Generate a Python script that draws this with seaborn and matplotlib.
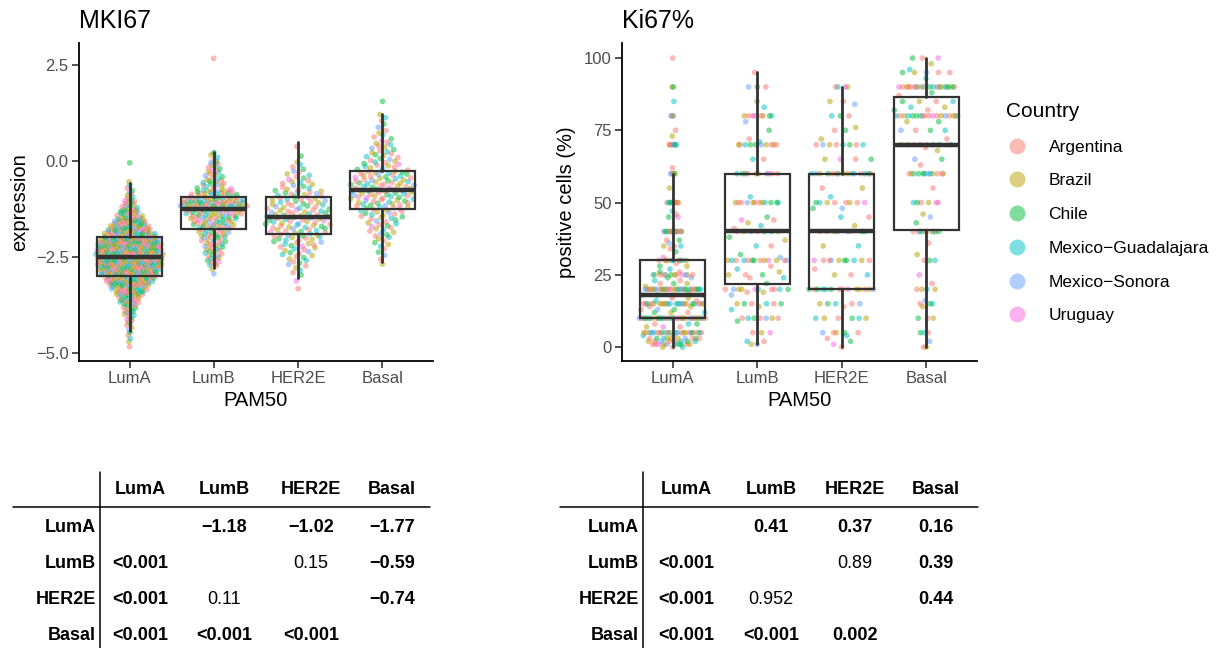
import numpy as np
import pandas as pd
import matplotlib
matplotlib.use("Agg")
import matplotlib.pyplot as plt
import seaborn as sns
from matplotlib.lines import Line2D

sns.set_theme(style="ticks")
plt.rcParams['font.family'] = ['Liberation Sans', 'DejaVu Sans']
plt.rcParams['text.color'] = 'black'

# ---------------- data ----------------
GROUPS = ["LumA", "LumB", "HER2E", "Basal"]
COUNTRIES = ["Argentina", "Brazil", "Chile", "Mexico\u2212Guadalajara", "Mexico\u2212Sonora", "Uruguay"]
COLORS = ["#F8766D", "#B79F00", "#00BA38", "#00BFC4", "#619CFF", "#F564E3"]
# repeating country pattern (A=Argentina, B=Brazil, C=Chile, G=Guadalajara, S=Sonora, U=Uruguay)
COUNTRY_PATTERN = ["A", "B", "G", "A", "C", "S", "B", "A", "G", "B", "A", "U",
                   "C", "A", "G", "B", "A", "S", "C", "A", "G", "B", "C"]
PATTERN_KEY = {"A": 0, "B": 1, "C": 2, "G": 3, "S": 4, "U": 5}

# MKI67 expression: counts of points per 0.25-wide bin (lower edges below)
MKI67_BIN_LOW = [-5.0, -4.75, -4.5, -4.25, -4.0, -3.75, -3.5, -3.25, -3.0, -2.75,
                 -2.5, -2.25, -2.0, -1.75, -1.5, -1.25, -1.0, -0.75, -0.5, -0.25,
                 0.0, 0.25, 0.5, 0.75, 1.0, 1.25]
MKI67_LUMA = [0, 3, 4, 7, 11, 18, 30, 45, 58, 62, 62, 62, 45, 33, 20, 12, 6, 3, 0, 0, 0, 0, 0, 0, 0, 0]
MKI67_LUMB = [0, 0, 0, 0, 0, 0, 0, 0, 2, 9, 11, 14, 18, 25, 32, 50, 28, 14, 10, 8, 4, 0, 0, 0, 0, 0]
MKI67_HER2E = [0, 0, 0, 0, 0, 0, 0, 1, 4, 7, 10, 14, 18, 20, 20, 18, 16, 10, 7, 4, 1, 1, 0, 0, 0, 0]
MKI67_BASAL = [0, 0, 0, 0, 0, 0, 0, 0, 0, 2, 3, 5, 8, 10, 14, 20, 22, 22, 20, 13, 10, 8, 5, 3, 3, 0]
MKI67_EXTRA_LUMA = [-4.84, -0.05]
MKI67_EXTRA_LUMB = [2.67]
MKI67_EXTRA_HER2E = [-3.33]
MKI67_EXTRA_BASAL = [1.55]

# Ki67 % positive cells: value -> count
KI67_LUMA_VAL = [0, 1, 2, 3, 4, 5, 7, 8, 10, 12, 13, 14, 15, 16, 17, 18, 19, 20, 21, 22, 23, 24, 25, 26, 27, 28, 29,
                 30, 31, 33, 34, 35, 36, 37, 40, 45, 46, 47, 50, 55, 60, 62, 70, 73, 75, 80, 85, 90, 100]
KI67_LUMA_CNT = [3, 10, 8, 10, 2, 22, 3, 3, 30, 4, 3, 2, 22, 2, 2, 4, 1, 28, 1, 3, 2, 2, 12, 2, 1, 2, 1,
                 10, 1, 1, 1, 3, 1, 2, 14, 2, 1, 1, 9, 1, 5, 1, 7, 1, 1, 3, 1, 2, 1]
KI67_LUMB_VAL = [1, 2, 5, 9, 10, 13, 14, 15, 18, 19, 20, 22, 24, 25, 26, 27, 28, 30, 31, 32, 35, 37, 38, 40, 41, 42,
                 43, 44, 45, 50, 52, 60, 65, 70, 71, 72, 75, 78, 80, 83, 85, 90, 95]
KI67_LUMB_CNT = [2, 2, 3, 1, 7, 1, 1, 6, 1, 2, 10, 1, 2, 3, 1, 1, 1, 13, 1, 1, 2, 1, 1, 7, 1, 1,
                 1, 2, 1, 12, 1, 10, 2, 10, 1, 1, 1, 1, 8, 1, 1, 3, 1]
KI67_HER2E_VAL = [0, 1, 2, 3, 4, 5, 10, 14, 15, 20, 25, 27, 30, 35, 40, 42, 45, 48, 50, 52, 55, 60, 65, 70, 72,
                  75, 76, 80, 84, 85, 90]
KI67_HER2E_CNT = [1, 1, 1, 1, 1, 5, 6, 1, 5, 14, 3, 1, 10, 2, 8, 1, 2, 2, 8, 1, 2, 15, 4, 8, 1,
                  2, 1, 3, 1, 2, 4]
KI67_BASAL_VAL = [0, 2, 5, 10, 14, 15, 16, 20, 22, 25, 30, 32, 36, 40, 43, 45, 46, 50, 55, 60, 63, 65, 68, 69, 70,
                  72, 75, 78, 80, 82, 83, 85, 87, 88, 90, 93, 95, 96, 98, 100]
KI67_BASAL_CNT = [2, 1, 3, 3, 1, 3, 1, 4, 1, 1, 3, 1, 1, 10, 1, 1, 1, 6, 1, 12, 1, 2, 1, 1, 8,
                  1, 4, 2, 18, 2, 2, 4, 1, 1, 20, 1, 5, 1, 1, 3]

# box statistics: q1, median, q3, lower whisker, upper whisker
MKI67_Q1 = [-2.99, -1.77, -1.90, -1.24]
MKI67_MED = [-2.49, -1.26, -1.45, -0.77]
MKI67_Q3 = [-1.97, -0.93, -0.95, -0.25]
MKI67_WLO = [-4.44, -2.80, -3.06, -2.62]
MKI67_WHI = [-0.58, 0.24, 0.48, 1.22]
KI67_Q1 = [10, 22, 20, 40.5]
KI67_MED = [18, 40, 40, 70]
KI67_Q3 = [30, 60, 60, 86.5]
KI67_WLO = [0, 1, 0, 0]
KI67_WHI = [60, 95, 90, 100]

# comparison tables
TABLE_HEAD = ["LumA", "LumB", "HER2E", "Basal"]
TAB1_CELLS = [["", "\u22121.18", "\u22121.02", "\u22121.77"],
              ["<0.001", "", "0.15", "\u22120.59"],
              ["<0.001", "0.11", "", "\u22120.74"],
              ["<0.001", "<0.001", "<0.001", ""]]
TAB1_BOLD = [[0, 1, 1, 1], [1, 0, 0, 1], [1, 0, 0, 1], [1, 1, 1, 0]]
TAB2_CELLS = [["", "0.41", "0.37", "0.16"],
              ["<0.001", "", "0.89", "0.39"],
              ["<0.001", "0.952", "", "0.44"],
              ["<0.001", "<0.001", "0.002", ""]]
TAB2_BOLD = [[0, 1, 1, 1], [1, 0, 0, 1], [1, 0, 0, 1], [1, 1, 1, 0]]


# ---------------- helpers ----------------
def expand_bins(low, counts, step=0.25):
    vals = []
    for lo, c in zip(low, counts):
        for k in range(c):
            vals.append(lo + (k + 0.5) / c * step)
    return vals


def expand_counts(values, counts):
    return list(np.repeat(values, counts).astype(float))


def vdc(n, base=2):
    out = np.zeros(n)
    for i in range(n):
        k, f, r = i + 1, 1.0, 0.0
        while k > 0:
            f /= base
            r += f * (k % base)
            k //= base
        out[i] = r
    return out


def quasi_offsets(vals, width=0.4):
    vals = np.asarray(vals, float)
    n = len(vals)
    sd = vals.std(ddof=1)
    q75, q25 = np.percentile(vals, [75, 25])
    lo = min(sd, (q75 - q25) / 1.34) if q75 > q25 else sd
    bw = 0.9 * lo * n ** -0.2
    d = np.exp(-0.5 * ((vals[:, None] - vals[None, :]) / bw) ** 2).sum(1)
    d = d / d.max()
    order = np.argsort(vals, kind="stable")
    q = np.empty(n)
    q[order] = vdc(n)
    return (q - 0.5) * 2 * width * d


def build_frame(group_values):
    rows = []
    for gi, vals in enumerate(group_values):
        vals = np.sort(np.asarray(vals, float))
        offs = quasi_offsets(vals)
        for i, (v, o) in enumerate(zip(vals, offs)):
            c = COUNTRIES[PATTERN_KEY[COUNTRY_PATTERN[(i + 5 * gi) % len(COUNTRY_PATTERN)]]]
            rows.append((GROUPS[gi], gi + o, v, c))
    return pd.DataFrame(rows, columns=["PAM50", "pos", "value", "Country"])


mki67_groups = [expand_bins(MKI67_BIN_LOW, MKI67_LUMA) + MKI67_EXTRA_LUMA,
                expand_bins(MKI67_BIN_LOW, MKI67_LUMB) + MKI67_EXTRA_LUMB,
                expand_bins(MKI67_BIN_LOW, MKI67_HER2E) + MKI67_EXTRA_HER2E,
                expand_bins(MKI67_BIN_LOW, MKI67_BASAL) + MKI67_EXTRA_BASAL]
ki67_groups = [expand_counts(KI67_LUMA_VAL, KI67_LUMA_CNT),
               expand_counts(KI67_LUMB_VAL, KI67_LUMB_CNT),
               expand_counts(KI67_HER2E_VAL, KI67_HER2E_CNT),
               expand_counts(KI67_BASAL_VAL, KI67_BASAL_CNT)]
df1 = build_frame(mki67_groups)
df2 = build_frame(ki67_groups)

# ---------------- figure ----------------
W, H = 1217, 648
fig = plt.figure(figsize=(W / 100, H / 100), dpi=100)
ax1 = fig.add_axes([79 / W, 1 - 361 / H, 354 / W, 318 / H])
ax2 = fig.add_axes([622 / W, 1 - 361 / H, 355 / W, 318 / H])

BOXC = "#333333"


def draw_panel(ax, df, q1, med, q3, wlo, whi):
    sns.scatterplot(data=df, x="pos", y="value", hue="Country", hue_order=COUNTRIES,
                    palette=COLORS, s=17, alpha=0.5, linewidth=0, legend=False,
                    ax=ax, zorder=2)
    stats = [dict(q1=a, med=b, q3=c, whislo=d, whishi=e, fliers=[])
             for a, b, c, d, e in zip(q1, med, q3, wlo, whi)]
    ax.bxp(stats, positions=range(len(GROUPS)), widths=0.77, showfliers=False,
           showcaps=False, patch_artist=True,
           boxprops=dict(facecolor="none", edgecolor=BOXC, linewidth=1.6),
           medianprops=dict(color=BOXC, linewidth=3.2, solid_capstyle="butt"),
           whiskerprops=dict(color=BOXC, linewidth=2.0), zorder=3)
    ax.set_xlim(-0.6, 3.6)
    ax.set_xticks(range(len(GROUPS)))
    ax.set_xticklabels(GROUPS)
    for s in ["top", "right"]:
        ax.spines[s].set_visible(False)
    for s in ["left", "bottom"]:
        ax.spines[s].set_color("black")
        ax.spines[s].set_linewidth(1.3)
    ax.tick_params(axis="both", direction="out", length=5, width=1.2, color=BOXC,
                   labelcolor="#4D4D4D", labelsize=12, pad=2.5)
    ax.set_xlabel("PAM50", fontsize=14.5, color="black", labelpad=3)
    ax.grid(False)


draw_panel(ax1, df1, MKI67_Q1, MKI67_MED, MKI67_Q3, MKI67_WLO, MKI67_WHI)
ax1.set_ylim(-5.21, 3.07)
ax1.set_yticks([-5.0, -2.5, 0.0, 2.5])
ax1.set_yticklabels([f"{v:.1f}".replace("-", "\u2212") for v in [-5.0, -2.5, 0.0, 2.5]])
ax1.set_ylabel("expression", fontsize=14.5, color="black", labelpad=5)
ax1.set_title("MKI67", loc="left", fontsize=18, pad=11, color="black")

draw_panel(ax2, df2, KI67_Q1, KI67_MED, KI67_Q3, KI67_WLO, KI67_WHI)
ax2.set_ylim(-4.8, 105.2)
ax2.set_yticks([0, 25, 50, 75, 100])
ax2.set_ylabel("positive cells (%)", fontsize=14.5, color="black", labelpad=6)
ax2.set_title("Ki67%", loc="left", fontsize=18, pad=11, color="black")

# legend
handles = [Line2D([0], [0], marker="o", linestyle="", markersize=11.5, markerfacecolor=c,
                  markeredgewidth=0, alpha=0.5) for c in COLORS]
leg = fig.legend(handles, COUNTRIES, loc="upper left", bbox_to_anchor=(999 / W, 1 - 95 / H),
                 frameon=False, title="Country", title_fontsize=15, fontsize=12.5,
                 labelspacing=1.07, handletextpad=1.15, handlelength=1.3, alignment="left",
                 borderaxespad=0)
leg.get_title().set_color("black")
for t in leg.get_texts():
    t.set_color("black")


# tables
def draw_table(cells, bold, vline_x, hline_x0, hline_x1, col_x, rowlab_x):
    fs = 13
    fig.add_artist(Line2D([vline_x / W, vline_x / W], [1 - 472 / H, 0], color="black", lw=1.1))
    fig.add_artist(Line2D([hline_x0 / W, hline_x1 / W], [1 - 507 / H, 1 - 507 / H], color="black", lw=1.1))
    for j, h in enumerate(TABLE_HEAD):
        fig.text(col_x[j] / W, 1 - 490 / H, h, ha="center", va="center", fontsize=fs,
                 fontweight="bold", color="black")
    row_y = [528, 564, 600, 635]
    for i, h in enumerate(TABLE_HEAD):
        fig.text(rowlab_x / W, 1 - row_y[i] / H, h, ha="right", va="center", fontsize=fs,
                 fontweight="bold", color="black")
        for j in range(4):
            if cells[i][j]:
                fig.text(col_x[j] / W, 1 - row_y[i] / H, cells[i][j], ha="center", va="center",
                         fontsize=fs, fontweight="bold" if bold[i][j] else "normal",
                         color="black")


draw_table(TAB1_CELLS, TAB1_BOLD, 100, 13, 430, [140, 224, 311, 392], 96)
draw_table(TAB2_CELLS, TAB2_BOLD, 643, 560, 978, [686, 771, 855, 936], 639)

fig.savefig("out.png", dpi=100)
